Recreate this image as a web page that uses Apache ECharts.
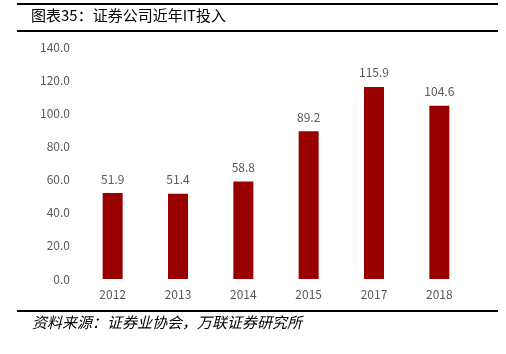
<!DOCTYPE html>
<html>
<head>
<meta charset="utf-8">
<script src="https://cdn.jsdelivr.net/npm/echarts@6/dist/echarts.min.js"></script>
<style>
  html, body { margin: 0; padding: 0; background: #fff; }
  #chatMain { width: 506px; height: 354px; }
</style>
</head>
<body>
<div id="chatMain"></div>
<script>
// 年份与IT投入（亿元）
var years = ['2012', '2013', '2014', '2015', '2017', '2018'];
var itSpend = [51.9, 51.4, 58.8, 89.2, 115.9, 104.6];
var yTicks = [0, 20, 40, 60, 80, 100, 120, 140];

var titleText = '图表35：证券公司近年IT投入';
var sourceText = '资料来源：证券业协会，万联证券研究所';

var myChart = echarts.init(document.getElementById('chatMain'));
var cjk = '"Noto Sans CJK SC", "Noto Sans", sans-serif';

myChart.setOption({
  animation: false,
  backgroundColor: '#fff',
  grid: { left: 80, right: 34, top: 47, bottom: 75 },
  xAxis: {
    type: 'category',
    data: years,
    axisLine: { show: false },
    axisTick: { show: false },
    axisLabel: { color: '#595959', fontSize: 12, fontFamily: cjk, margin: 9 }
  },
  yAxis: {
    type: 'value',
    min: yTicks[0],
    max: yTicks[yTicks.length - 1],
    interval: 20,
    splitLine: { show: false },
    axisLine: { show: false },
    axisTick: { show: false },
    axisLabel: {
      color: '#595959', fontSize: 12, fontFamily: cjk, margin: 10,
      formatter: function (v) { return v.toFixed(1); }
    }
  },
  series: [{
    type: 'bar',
    data: itSpend,
    barWidth: 20,
    itemStyle: { color: '#990000' },
    label: {
      show: true, position: 'top', distance: 8,
      color: '#595959', fontSize: 12, fontFamily: cjk,
      formatter: function (p) { return p.value.toFixed(1); }
    }
  }],
  graphic: [
    { type: 'rect', shape: { x: 17, y: 3, width: 481, height: 2 }, style: { fill: '#000' } },
    { type: 'text', left: 31, top: 8, style: { text: titleText, fill: '#000', font: '15px ' + cjk } },
    { type: 'rect', shape: { x: 17, y: 30, width: 481, height: 2 }, style: { fill: '#000' } },
    { type: 'rect', shape: { x: 17, y: 310, width: 481, height: 2 }, style: { fill: '#000' } },
    { type: 'text', left: 32, top: 315, style: { text: sourceText, fill: '#000', font: 'italic 15px ' + cjk } }
  ]
});
</script>
</body>
</html>
